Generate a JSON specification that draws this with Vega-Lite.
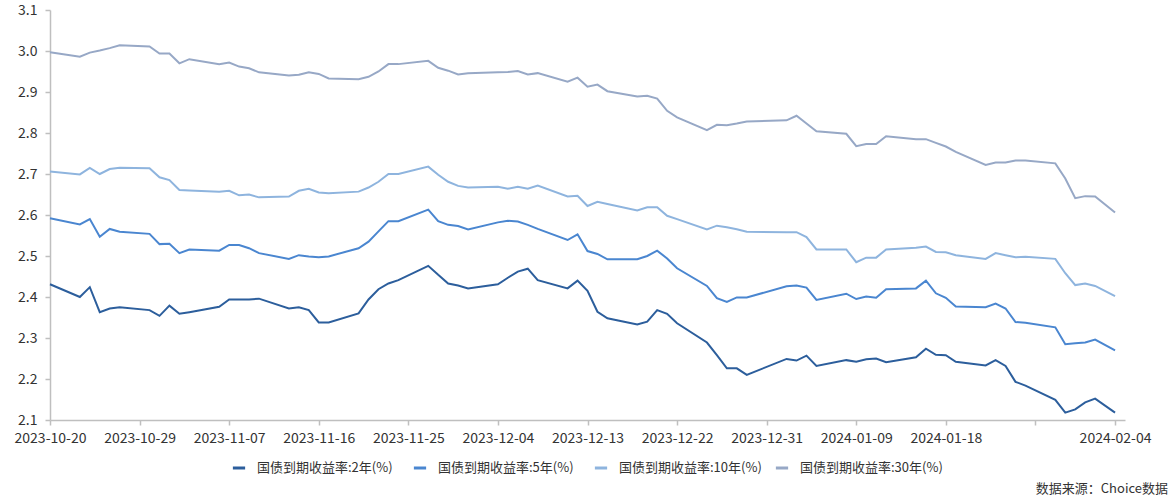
{
  "$schema": "https://vega.github.io/schema/vega-lite/v6.json",
  "autosize": {"type": "none"},
  "padding": {"left": 50, "top": 10, "right": 50, "bottom": 82},
  "width": 1075,
  "height": 410,
  "background": "white",
  "config": {
    "view": {"stroke": null},
    "font": "Noto Sans CJK SC"
  },
  "title": {
    "text": "数据来源：Choice数据",
    "orient": "bottom",
    "anchor": "end",
    "frame": "group",
    "offset": 8,
    "dx": 43,
    "fontSize": 13,
    "fontWeight": "normal",
    "color": "#333333",
    "font": "Noto Sans CJK SC"
  },
  "datasets": {
    "yields": [
      {"d":"2023-10-20","s":"2Y","v":2.431},{"d":"2023-10-20","s":"5Y","v":2.592},{"d":"2023-10-20","s":"10Y","v":2.706},{"d":"2023-10-20","s":"30Y","v":2.997},
      {"d":"2023-10-23","s":"2Y","v":2.400},{"d":"2023-10-23","s":"5Y","v":2.577},{"d":"2023-10-23","s":"10Y","v":2.699},{"d":"2023-10-23","s":"30Y","v":2.986},
      {"d":"2023-10-24","s":"2Y","v":2.424},{"d":"2023-10-24","s":"5Y","v":2.590},{"d":"2023-10-24","s":"10Y","v":2.715},{"d":"2023-10-24","s":"30Y","v":2.996},
      {"d":"2023-10-25","s":"2Y","v":2.363},{"d":"2023-10-25","s":"5Y","v":2.547},{"d":"2023-10-25","s":"10Y","v":2.700},{"d":"2023-10-25","s":"30Y","v":3.001},
      {"d":"2023-10-26","s":"2Y","v":2.372},{"d":"2023-10-26","s":"5Y","v":2.566},{"d":"2023-10-26","s":"10Y","v":2.712},{"d":"2023-10-26","s":"30Y","v":3.007},
      {"d":"2023-10-27","s":"2Y","v":2.375},{"d":"2023-10-27","s":"5Y","v":2.559},{"d":"2023-10-27","s":"10Y","v":2.715},{"d":"2023-10-27","s":"30Y","v":3.014},
      {"d":"2023-10-30","s":"2Y","v":2.368},{"d":"2023-10-30","s":"5Y","v":2.554},{"d":"2023-10-30","s":"10Y","v":2.714},{"d":"2023-10-30","s":"30Y","v":3.011},
      {"d":"2023-10-31","s":"2Y","v":2.354},{"d":"2023-10-31","s":"5Y","v":2.529},{"d":"2023-10-31","s":"10Y","v":2.692},{"d":"2023-10-31","s":"30Y","v":2.994},
      {"d":"2023-11-01","s":"2Y","v":2.379},{"d":"2023-11-01","s":"5Y","v":2.530},{"d":"2023-11-01","s":"10Y","v":2.685},{"d":"2023-11-01","s":"30Y","v":2.994},
      {"d":"2023-11-02","s":"2Y","v":2.359},{"d":"2023-11-02","s":"5Y","v":2.507},{"d":"2023-11-02","s":"10Y","v":2.661},{"d":"2023-11-02","s":"30Y","v":2.970},
      {"d":"2023-11-03","s":"2Y","v":2.363},{"d":"2023-11-03","s":"5Y","v":2.516},{"d":"2023-11-03","s":"10Y","v":2.660},{"d":"2023-11-03","s":"30Y","v":2.980},
      {"d":"2023-11-06","s":"2Y","v":2.376},{"d":"2023-11-06","s":"5Y","v":2.513},{"d":"2023-11-06","s":"10Y","v":2.657},{"d":"2023-11-06","s":"30Y","v":2.968},
      {"d":"2023-11-07","s":"2Y","v":2.394},{"d":"2023-11-07","s":"5Y","v":2.527},{"d":"2023-11-07","s":"10Y","v":2.659},{"d":"2023-11-07","s":"30Y","v":2.972},
      {"d":"2023-11-08","s":"2Y","v":2.394},{"d":"2023-11-08","s":"5Y","v":2.527},{"d":"2023-11-08","s":"10Y","v":2.648},{"d":"2023-11-08","s":"30Y","v":2.962},
      {"d":"2023-11-09","s":"2Y","v":2.394},{"d":"2023-11-09","s":"5Y","v":2.519},{"d":"2023-11-09","s":"10Y","v":2.650},{"d":"2023-11-09","s":"30Y","v":2.958},
      {"d":"2023-11-10","s":"2Y","v":2.396},{"d":"2023-11-10","s":"5Y","v":2.507},{"d":"2023-11-10","s":"10Y","v":2.643},{"d":"2023-11-10","s":"30Y","v":2.948},
      {"d":"2023-11-13","s":"2Y","v":2.372},{"d":"2023-11-13","s":"5Y","v":2.493},{"d":"2023-11-13","s":"10Y","v":2.645},{"d":"2023-11-13","s":"30Y","v":2.940},
      {"d":"2023-11-14","s":"2Y","v":2.375},{"d":"2023-11-14","s":"5Y","v":2.502},{"d":"2023-11-14","s":"10Y","v":2.659},{"d":"2023-11-14","s":"30Y","v":2.942},
      {"d":"2023-11-15","s":"2Y","v":2.368},{"d":"2023-11-15","s":"5Y","v":2.499},{"d":"2023-11-15","s":"10Y","v":2.664},{"d":"2023-11-15","s":"30Y","v":2.948},
      {"d":"2023-11-16","s":"2Y","v":2.338},{"d":"2023-11-16","s":"5Y","v":2.497},{"d":"2023-11-16","s":"10Y","v":2.655},{"d":"2023-11-16","s":"30Y","v":2.944},
      {"d":"2023-11-17","s":"2Y","v":2.338},{"d":"2023-11-17","s":"5Y","v":2.499},{"d":"2023-11-17","s":"10Y","v":2.653},{"d":"2023-11-17","s":"30Y","v":2.933},
      {"d":"2023-11-20","s":"2Y","v":2.360},{"d":"2023-11-20","s":"5Y","v":2.519},{"d":"2023-11-20","s":"10Y","v":2.657},{"d":"2023-11-20","s":"30Y","v":2.931},
      {"d":"2023-11-21","s":"2Y","v":2.394},{"d":"2023-11-21","s":"5Y","v":2.535},{"d":"2023-11-21","s":"10Y","v":2.667},{"d":"2023-11-21","s":"30Y","v":2.937},
      {"d":"2023-11-22","s":"2Y","v":2.419},{"d":"2023-11-22","s":"5Y","v":2.560},{"d":"2023-11-22","s":"10Y","v":2.681},{"d":"2023-11-22","s":"30Y","v":2.950},
      {"d":"2023-11-23","s":"2Y","v":2.433},{"d":"2023-11-23","s":"5Y","v":2.585},{"d":"2023-11-23","s":"10Y","v":2.700},{"d":"2023-11-23","s":"30Y","v":2.968},
      {"d":"2023-11-24","s":"2Y","v":2.441},{"d":"2023-11-24","s":"5Y","v":2.585},{"d":"2023-11-24","s":"10Y","v":2.700},{"d":"2023-11-24","s":"30Y","v":2.968},
      {"d":"2023-11-27","s":"2Y","v":2.476},{"d":"2023-11-27","s":"5Y","v":2.613},{"d":"2023-11-27","s":"10Y","v":2.718},{"d":"2023-11-27","s":"30Y","v":2.976},
      {"d":"2023-11-28","s":"2Y","v":2.454},{"d":"2023-11-28","s":"5Y","v":2.585},{"d":"2023-11-28","s":"10Y","v":2.698},{"d":"2023-11-28","s":"30Y","v":2.959},
      {"d":"2023-11-29","s":"2Y","v":2.433},{"d":"2023-11-29","s":"5Y","v":2.576},{"d":"2023-11-29","s":"10Y","v":2.681},{"d":"2023-11-29","s":"30Y","v":2.952},
      {"d":"2023-11-30","s":"2Y","v":2.428},{"d":"2023-11-30","s":"5Y","v":2.573},{"d":"2023-11-30","s":"10Y","v":2.671},{"d":"2023-11-30","s":"30Y","v":2.943},
      {"d":"2023-12-01","s":"2Y","v":2.421},{"d":"2023-12-01","s":"5Y","v":2.565},{"d":"2023-12-01","s":"10Y","v":2.667},{"d":"2023-12-01","s":"30Y","v":2.946},
      {"d":"2023-12-04","s":"2Y","v":2.431},{"d":"2023-12-04","s":"5Y","v":2.582},{"d":"2023-12-04","s":"10Y","v":2.669},{"d":"2023-12-04","s":"30Y","v":2.948},
      {"d":"2023-12-05","s":"2Y","v":2.447},{"d":"2023-12-05","s":"5Y","v":2.586},{"d":"2023-12-05","s":"10Y","v":2.664},{"d":"2023-12-05","s":"30Y","v":2.949},
      {"d":"2023-12-06","s":"2Y","v":2.462},{"d":"2023-12-06","s":"5Y","v":2.584},{"d":"2023-12-06","s":"10Y","v":2.669},{"d":"2023-12-06","s":"30Y","v":2.951},
      {"d":"2023-12-07","s":"2Y","v":2.469},{"d":"2023-12-07","s":"5Y","v":2.576},{"d":"2023-12-07","s":"10Y","v":2.664},{"d":"2023-12-07","s":"30Y","v":2.943},
      {"d":"2023-12-08","s":"2Y","v":2.441},{"d":"2023-12-08","s":"5Y","v":2.566},{"d":"2023-12-08","s":"10Y","v":2.672},{"d":"2023-12-08","s":"30Y","v":2.946},
      {"d":"2023-12-11","s":"2Y","v":2.421},{"d":"2023-12-11","s":"5Y","v":2.539},{"d":"2023-12-11","s":"10Y","v":2.645},{"d":"2023-12-11","s":"30Y","v":2.925},
      {"d":"2023-12-12","s":"2Y","v":2.440},{"d":"2023-12-12","s":"5Y","v":2.553},{"d":"2023-12-12","s":"10Y","v":2.647},{"d":"2023-12-12","s":"30Y","v":2.935},
      {"d":"2023-12-13","s":"2Y","v":2.415},{"d":"2023-12-13","s":"5Y","v":2.512},{"d":"2023-12-13","s":"10Y","v":2.622},{"d":"2023-12-13","s":"30Y","v":2.913},
      {"d":"2023-12-14","s":"2Y","v":2.364},{"d":"2023-12-14","s":"5Y","v":2.505},{"d":"2023-12-14","s":"10Y","v":2.632},{"d":"2023-12-14","s":"30Y","v":2.918},
      {"d":"2023-12-15","s":"2Y","v":2.348},{"d":"2023-12-15","s":"5Y","v":2.492},{"d":"2023-12-15","s":"10Y","v":2.627},{"d":"2023-12-15","s":"30Y","v":2.902},
      {"d":"2023-12-18","s":"2Y","v":2.333},{"d":"2023-12-18","s":"5Y","v":2.492},{"d":"2023-12-18","s":"10Y","v":2.611},{"d":"2023-12-18","s":"30Y","v":2.889},
      {"d":"2023-12-19","s":"2Y","v":2.340},{"d":"2023-12-19","s":"5Y","v":2.500},{"d":"2023-12-19","s":"10Y","v":2.619},{"d":"2023-12-19","s":"30Y","v":2.891},
      {"d":"2023-12-20","s":"2Y","v":2.368},{"d":"2023-12-20","s":"5Y","v":2.513},{"d":"2023-12-20","s":"10Y","v":2.619},{"d":"2023-12-20","s":"30Y","v":2.884},
      {"d":"2023-12-21","s":"2Y","v":2.359},{"d":"2023-12-21","s":"5Y","v":2.494},{"d":"2023-12-21","s":"10Y","v":2.598},{"d":"2023-12-21","s":"30Y","v":2.854},
      {"d":"2023-12-22","s":"2Y","v":2.336},{"d":"2023-12-22","s":"5Y","v":2.470},{"d":"2023-12-22","s":"10Y","v":2.590},{"d":"2023-12-22","s":"30Y","v":2.838},
      {"d":"2023-12-25","s":"2Y","v":2.289},{"d":"2023-12-25","s":"5Y","v":2.427},{"d":"2023-12-25","s":"10Y","v":2.565},{"d":"2023-12-25","s":"30Y","v":2.807},
      {"d":"2023-12-26","s":"2Y","v":2.258},{"d":"2023-12-26","s":"5Y","v":2.397},{"d":"2023-12-26","s":"10Y","v":2.574},{"d":"2023-12-26","s":"30Y","v":2.820},
      {"d":"2023-12-27","s":"2Y","v":2.226},{"d":"2023-12-27","s":"5Y","v":2.388},{"d":"2023-12-27","s":"10Y","v":2.570},{"d":"2023-12-27","s":"30Y","v":2.819},
      {"d":"2023-12-28","s":"2Y","v":2.226},{"d":"2023-12-28","s":"5Y","v":2.399},{"d":"2023-12-28","s":"10Y","v":2.565},{"d":"2023-12-28","s":"30Y","v":2.823},
      {"d":"2023-12-29","s":"2Y","v":2.210},{"d":"2023-12-29","s":"5Y","v":2.399},{"d":"2023-12-29","s":"10Y","v":2.559},{"d":"2023-12-29","s":"30Y","v":2.828},
      {"d":"2024-01-02","s":"2Y","v":2.249},{"d":"2024-01-02","s":"5Y","v":2.426},{"d":"2024-01-02","s":"10Y","v":2.558},{"d":"2024-01-02","s":"30Y","v":2.831},
      {"d":"2024-01-03","s":"2Y","v":2.245},{"d":"2024-01-03","s":"5Y","v":2.428},{"d":"2024-01-03","s":"10Y","v":2.558},{"d":"2024-01-03","s":"30Y","v":2.842},
      {"d":"2024-01-04","s":"2Y","v":2.257},{"d":"2024-01-04","s":"5Y","v":2.423},{"d":"2024-01-04","s":"10Y","v":2.546},{"d":"2024-01-04","s":"30Y","v":2.823},
      {"d":"2024-01-05","s":"2Y","v":2.232},{"d":"2024-01-05","s":"5Y","v":2.393},{"d":"2024-01-05","s":"10Y","v":2.516},{"d":"2024-01-05","s":"30Y","v":2.804},
      {"d":"2024-01-08","s":"2Y","v":2.246},{"d":"2024-01-08","s":"5Y","v":2.408},{"d":"2024-01-08","s":"10Y","v":2.516},{"d":"2024-01-08","s":"30Y","v":2.798},
      {"d":"2024-01-09","s":"2Y","v":2.242},{"d":"2024-01-09","s":"5Y","v":2.395},{"d":"2024-01-09","s":"10Y","v":2.485},{"d":"2024-01-09","s":"30Y","v":2.768},
      {"d":"2024-01-10","s":"2Y","v":2.248},{"d":"2024-01-10","s":"5Y","v":2.401},{"d":"2024-01-10","s":"10Y","v":2.496},{"d":"2024-01-10","s":"30Y","v":2.773},
      {"d":"2024-01-11","s":"2Y","v":2.250},{"d":"2024-01-11","s":"5Y","v":2.398},{"d":"2024-01-11","s":"10Y","v":2.496},{"d":"2024-01-11","s":"30Y","v":2.773},
      {"d":"2024-01-12","s":"2Y","v":2.241},{"d":"2024-01-12","s":"5Y","v":2.419},{"d":"2024-01-12","s":"10Y","v":2.516},{"d":"2024-01-12","s":"30Y","v":2.792},
      {"d":"2024-01-15","s":"2Y","v":2.253},{"d":"2024-01-15","s":"5Y","v":2.421},{"d":"2024-01-15","s":"10Y","v":2.520},{"d":"2024-01-15","s":"30Y","v":2.785},
      {"d":"2024-01-16","s":"2Y","v":2.274},{"d":"2024-01-16","s":"5Y","v":2.440},{"d":"2024-01-16","s":"10Y","v":2.523},{"d":"2024-01-16","s":"30Y","v":2.785},
      {"d":"2024-01-17","s":"2Y","v":2.259},{"d":"2024-01-17","s":"5Y","v":2.409},{"d":"2024-01-17","s":"10Y","v":2.510},{"d":"2024-01-17","s":"30Y","v":2.776},
      {"d":"2024-01-18","s":"2Y","v":2.258},{"d":"2024-01-18","s":"5Y","v":2.398},{"d":"2024-01-18","s":"10Y","v":2.509},{"d":"2024-01-18","s":"30Y","v":2.767},
      {"d":"2024-01-19","s":"2Y","v":2.242},{"d":"2024-01-19","s":"5Y","v":2.377},{"d":"2024-01-19","s":"10Y","v":2.502},{"d":"2024-01-19","s":"30Y","v":2.754},
      {"d":"2024-01-22","s":"2Y","v":2.233},{"d":"2024-01-22","s":"5Y","v":2.375},{"d":"2024-01-22","s":"10Y","v":2.493},{"d":"2024-01-22","s":"30Y","v":2.722},
      {"d":"2024-01-23","s":"2Y","v":2.246},{"d":"2024-01-23","s":"5Y","v":2.384},{"d":"2024-01-23","s":"10Y","v":2.507},{"d":"2024-01-23","s":"30Y","v":2.728},
      {"d":"2024-01-24","s":"2Y","v":2.232},{"d":"2024-01-24","s":"5Y","v":2.372},{"d":"2024-01-24","s":"10Y","v":2.502},{"d":"2024-01-24","s":"30Y","v":2.728},
      {"d":"2024-01-25","s":"2Y","v":2.193},{"d":"2024-01-25","s":"5Y","v":2.339},{"d":"2024-01-25","s":"10Y","v":2.497},{"d":"2024-01-25","s":"30Y","v":2.733},
      {"d":"2024-01-26","s":"2Y","v":2.184},{"d":"2024-01-26","s":"5Y","v":2.337},{"d":"2024-01-26","s":"10Y","v":2.498},{"d":"2024-01-26","s":"30Y","v":2.733},
      {"d":"2024-01-29","s":"2Y","v":2.149},{"d":"2024-01-29","s":"5Y","v":2.326},{"d":"2024-01-29","s":"10Y","v":2.493},{"d":"2024-01-29","s":"30Y","v":2.726},
      {"d":"2024-01-30","s":"2Y","v":2.118},{"d":"2024-01-30","s":"5Y","v":2.285},{"d":"2024-01-30","s":"10Y","v":2.458},{"d":"2024-01-30","s":"30Y","v":2.689},
      {"d":"2024-01-31","s":"2Y","v":2.126},{"d":"2024-01-31","s":"5Y","v":2.287},{"d":"2024-01-31","s":"10Y","v":2.429},{"d":"2024-01-31","s":"30Y","v":2.641},
      {"d":"2024-02-01","s":"2Y","v":2.143},{"d":"2024-02-01","s":"5Y","v":2.289},{"d":"2024-02-01","s":"10Y","v":2.433},{"d":"2024-02-01","s":"30Y","v":2.646},
      {"d":"2024-02-02","s":"2Y","v":2.152},{"d":"2024-02-02","s":"5Y","v":2.296},{"d":"2024-02-02","s":"10Y","v":2.427},{"d":"2024-02-02","s":"30Y","v":2.645},
      {"d":"2024-02-04","s":"2Y","v":2.118},{"d":"2024-02-04","s":"5Y","v":2.270},{"d":"2024-02-04","s":"10Y","v":2.402},{"d":"2024-02-04","s":"30Y","v":2.606}
    ],
    "names": [
      {"s":"2Y","name":"国债到期收益率:2年(%)"},
      {"s":"5Y","name":"国债到期收益率:5年(%)"},
      {"s":"10Y","name":"国债到期收益率:10年(%)"},
      {"s":"30Y","name":"国债到期收益率:30年(%)"}
    ]
  },
  "data": {"name": "yields"},
  "transform": [
    {"lookup": "s", "from": {"data": {"name": "names"}, "key": "s", "fields": ["name"]}}
  ],
  "mark": {"type": "line", "strokeWidth": 2, "interpolate": "linear"},
  "encoding": {
    "x": {
      "field": "d",
      "type": "temporal",
      "scale": {
        "type": "utc",
        "domain": [
          {"year": 2023, "month": 10, "date": 20, "utc": true},
          {"year": 2024, "month": 2, "date": 5, "utc": true}
        ],
        "nice": false
      },
      "axis": {
        "title": null,
        "grid": false,
        "values": [
          {"year": 2023, "month": 10, "date": 20, "utc": true},
          {"year": 2023, "month": 10, "date": 29, "utc": true},
          {"year": 2023, "month": 11, "date": 7, "utc": true},
          {"year": 2023, "month": 11, "date": 16, "utc": true},
          {"year": 2023, "month": 11, "date": 25, "utc": true},
          {"year": 2023, "month": 12, "date": 4, "utc": true},
          {"year": 2023, "month": 12, "date": 13, "utc": true},
          {"year": 2023, "month": 12, "date": 22, "utc": true},
          {"year": 2023, "month": 12, "date": 31, "utc": true},
          {"year": 2024, "month": 1, "date": 9, "utc": true},
          {"year": 2024, "month": 1, "date": 18, "utc": true},
          {"year": 2024, "month": 1, "date": 27, "utc": true},
          {"year": 2024, "month": 2, "date": 4, "utc": true}
        ],
        "labelExpr": "utcFormat(datum.value, '%Y-%m-%d') == '2024-01-27' ? '' : utcFormat(datum.value, '%Y-%m-%d')",
        "labelFont": "Noto Sans CJK SC",
        "labelFontSize": 14,
        "labelColor": "#333333",
        "labelOverlap": false,
        "labelFlush": false,
        "labelPadding": 6,
        "domainColor": "#BFBFBF",
        "domainWidth": 1.5,
        "tickColor": "#BFBFBF",
        "tickSize": 5,
        "tickWidth": 1.5
      }
    },
    "y": {
      "field": "v",
      "type": "quantitative",
      "scale": {"domain": [2.1, 3.1], "nice": false, "zero": false},
      "axis": {
        "title": null,
        "grid": false,
        "values": [2.1, 2.2, 2.3, 2.4, 2.5, 2.6, 2.7, 2.8, 2.9, 3.0, 3.1],
        "format": ".1f",
        "labelFont": "Noto Sans CJK SC",
        "labelFontSize": 14,
        "labelColor": "#333333",
        "labelPadding": 8,
        "domainColor": "#BFBFBF",
        "domainWidth": 1.5,
        "tickColor": "#BFBFBF",
        "tickSize": 5,
        "tickWidth": 1.5
      }
    },
    "color": {
      "field": "name",
      "type": "nominal",
      "scale": {
        "domain": ["国债到期收益率:2年(%)", "国债到期收益率:5年(%)", "国债到期收益率:10年(%)", "国债到期收益率:30年(%)"],
        "range": ["#2C5E9C", "#4A86D0", "#8EB4DE", "#97A8C6"]
      },
      "legend": {
        "title": null,
        "orient": "none",
        "legendX": 181,
        "legendY": 450,
        "direction": "horizontal",
        "columns": 4,
        "gridAlign": "all",
        "columnPadding": 7,
        "symbolType": "stroke",
        "symbolStrokeWidth": 3,
        "symbolSize": 150,
        "labelFont": "Noto Sans CJK SC",
        "labelFontSize": 13,
        "labelColor": "#333333",
        "labelOffset": 10,
        "labelLimit": 300
      }
    }
  }
}
